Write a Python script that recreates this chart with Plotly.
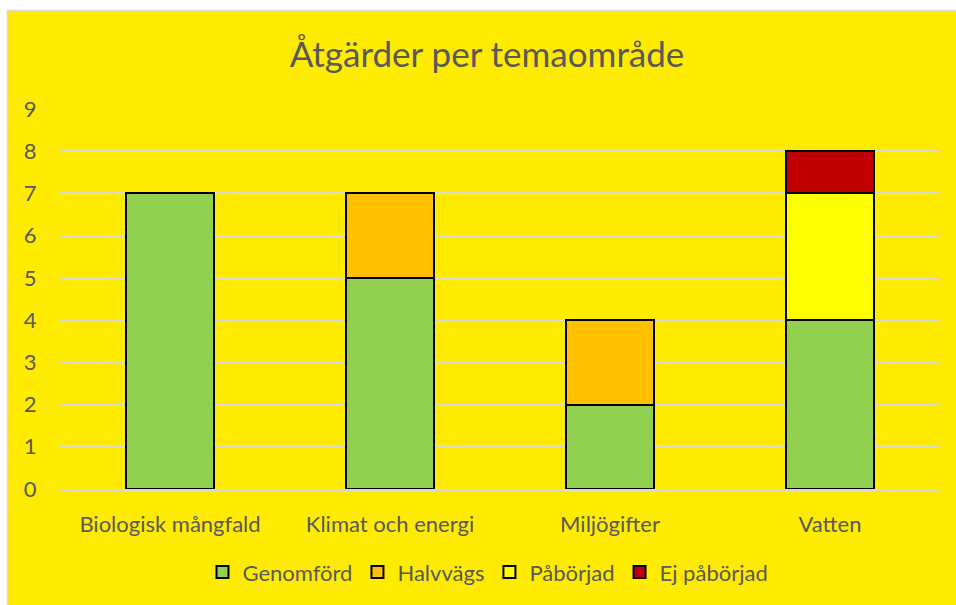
import plotly.graph_objects as go

categories = ["Biologisk mångfald", "Klimat och energi", "Miljögifter", "Vatten"]
genomford = [7, 5, 2, 4]
halvvags = [None, 2, 2, None]
paborjad = [None, None, None, 3]
ej_paborjad = [None, None, None, 1]
y_ticks = list(range(0, 10))

series = [
    ("Genomförd", genomford, "#92D050"),
    ("Halvvägs", halvvags, "#FFC000"),
    ("Påbörjad", paborjad, "#FFFF00"),
    ("Ej påbörjad", ej_paborjad, "#C00000"),
]

TEXT = "#595959"
FONT = "Lato"

fig = go.Figure()
for name, vals, col in series:
    fig.add_trace(go.Bar(
        x=categories, y=vals, name=name,
        marker=dict(color=col, line=dict(color="#000000", width=2)),
    ))

W, H = 956, 605
L, R, T, B = 60, 16, 109, 112
pw, ph = W - L - R, H - T - B

def px_x(p):
    return (p - L) / pw

def px_y(p):
    return (H - B - p) / ph

fig.add_shape(type="rect", xref="paper", yref="paper",
              x0=px_x(7.5), x1=px_x(965), y0=px_y(9.5), y1=px_y(615),
              fillcolor="#FFEB00", line=dict(color="#D9D9D9", width=1.5),
              layer="below")

fig.update_layout(
    width=W, height=H,
    barmode="stack", bargap=0.6,
    paper_bgcolor="#FFFFFF", plot_bgcolor="rgba(0,0,0,0)",
    margin=dict(l=L, r=R, t=T, b=B, pad=0),
    font=dict(family=FONT, color=TEXT, size=22),
    title=dict(text="Åtgärder per temaområde", x=487 / W, xanchor="center",
               y=1 - 55 / H, yanchor="middle", yref="container",
               font=dict(family=FONT, size=35, color=TEXT)),
    showlegend=True,
    legend=dict(orientation="h", x=px_x(488), xanchor="center",
                y=px_y(577), yanchor="middle", traceorder="normal",
                font=dict(family=FONT, size=22, color=TEXT),
                bgcolor="rgba(0,0,0,0)"),
)
fig.update_yaxes(range=[0, 9], tickvals=y_ticks, showgrid=True,
                 gridcolor="#D9D9D9", gridwidth=1.5, zeroline=False,
                 ticks="outside", ticklen=18, tickcolor="rgba(0,0,0,0)",
                 tickfont=dict(family=FONT, size=22, color=TEXT), showline=False)
fig.update_xaxes(showline=True, linecolor="#D9D9D9", linewidth=1.5,
                 ticks="outside", ticklen=15, tickcolor="rgba(0,0,0,0)",
                 tickfont=dict(family=FONT, size=22, color=TEXT))

fig.write_html(
    "out.html",
    config={"displayModeBar": False},
    post_script="document.body.style.margin='0';document.body.style.overflow='hidden';",
)
